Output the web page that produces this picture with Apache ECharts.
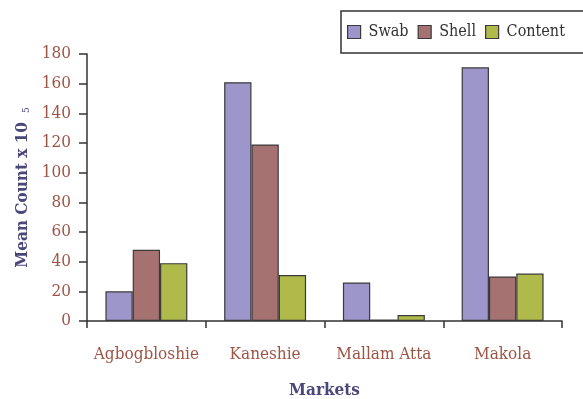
<!DOCTYPE html>
<html>
<head>
<meta charset="utf-8">
<script src="https://cdn.jsdelivr.net/npm/echarts@6/dist/echarts.min.js"></script>
<style>
  html, body { margin: 0; padding: 0; background: #fff; }
  #chart { width: 583px; height: 399px; }
</style>
</head>
<body>
<div id="chart"></div>
<script>
// Mean microbial counts (x 10^5) per market, by sample type
const markets = ['Agbogbloshie', 'Kaneshie', 'Mallam Atta', 'Makola'];
const swab = [20, 161, 26, 171];
const shell = [48, 119, 1, 30];
const content = [39, 31, 4, 32];
const yTicks = { min: 0, max: 180, interval: 20 };

const serif = '"DejaVu Serif Condensed", "DejaVu Serif", serif';
const labelColor = '#9e5444';
const titleColor = '#4a4878';
const axisColor = '#333333';
const barBorder = { borderColor: '#3a3a3a', borderWidth: 1.2 };

const chart = echarts.init(document.getElementById('chart'), null, { renderer: 'canvas' });

function barSeries(name, data, color) {
  return {
    name: name,
    type: 'bar',
    data: data,
    barGap: '0%',
    barCategoryGap: '31%',
    itemStyle: Object.assign({ color: color }, barBorder),
    emphasis: { disabled: true }
  };
}

chart.setOption({
  animation: false,
  backgroundColor: '#ffffff',
  grid: { left: 87, right: 21, top: 54, bottom: 78, containLabel: false, outerBoundsMode: 'none' },
  legend: {
    left: 341,
    top: 11,
    width: 400,
    orient: 'horizontal',
    icon: 'rect',
    itemWidth: 13,
    itemHeight: 13,
    itemGap: 9,
    padding: [13, 40, 13, 6],
    borderColor: '#333',
    borderWidth: 1.5,
    backgroundColor: '#fff',
    textStyle: { fontFamily: serif, fontSize: 16, color: '#333', padding: [0, 0, 0, 3] },
    itemStyle: { borderColor: '#3a3a3a', borderWidth: 1.2 },
    data: ['Swab', 'Shell', 'Content']
  },
  xAxis: {
    type: 'category',
    data: markets,
    name: 'Markets',
    nameLocation: 'middle',
    nameGap: 61,
    nameTextStyle: { fontFamily: serif, fontSize: 17, fontWeight: 'bold', color: titleColor },
    axisLine: { lineStyle: { color: axisColor, width: 1.5 } },
    axisTick: { show: true, length: 7, lineStyle: { color: axisColor, width: 1.5 } },
    axisLabel: { interval: 0, margin: 25, fontFamily: serif, fontSize: 17, color: labelColor },
    splitLine: { show: false }
  },
  yAxis: {
    type: 'value',
    min: yTicks.min,
    max: yTicks.max,
    interval: yTicks.interval,
    name: '{main|Mean Count x 10}{sup|5}',
    nameLocation: 'middle',
    nameRotate: 90,
    nameGap: 55,
    nameTextStyle: {
      rich: {
        main: { fontFamily: serif, fontSize: 17, fontWeight: 'bold', color: titleColor },
        sup: { fontFamily: serif, fontSize: 10, color: titleColor, padding: [0, 0, 0, 9], verticalAlign: 'bottom' }
      }
    },
    axisLine: { show: true, lineStyle: { color: axisColor, width: 1.5 } },
    axisTick: { show: true, length: 8, lineStyle: { color: axisColor, width: 1.5 } },
    axisLabel: { margin: 16, fontFamily: serif, fontSize: 17, color: labelColor },
    splitLine: { show: false }
  },
  series: [
    barSeries('Swab', swab, '#9c96cb'),
    barSeries('Shell', shell, '#a57171'),
    barSeries('Content', content, '#afba4b')
  ]
});
</script>
</body>
</html>
